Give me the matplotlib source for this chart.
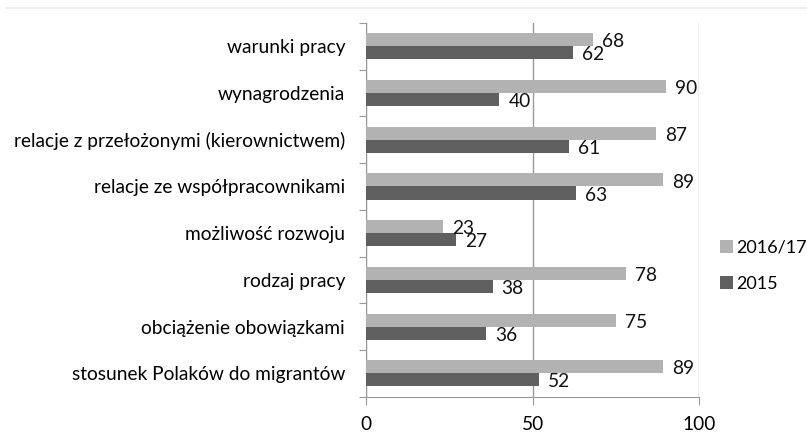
import matplotlib.pyplot as plt
import numpy as np
from matplotlib.lines import Line2D

plt.rcParams['font.family'] = ['Lato', 'DejaVu Sans']

# categories from top to bottom
categories = ["warunki pracy", "wynagrodzenia",
              "relacje z przełożonymi (kierownictwem)",
              "relacje ze współpracownikami", "możliwość rozwoju",
              "rodzaj pracy", "obciążenie obowiązkami",
              "stosunek Polaków do migrantów"]
vals_2016 = [68, 90, 87, 89, 23, 78, 75, 89]
vals_2015 = [62, 40, 61, 63, 27, 38, 36, 52]
series_names = ["2016/17", "2015"]
xticks = [0, 50, 100]

light = '#b2b2b2'
dark = '#5f5f5f'
fs = 13.8

fig = plt.figure(figsize=(8.07, 4.32), dpi=100)
ax = fig.add_axes([366 / 807, 1 - 396.7 / 432, (699.3 - 366) / 807, (396.7 - 23) / 432])

# faint top border line
fig.add_artist(Line2D([6 / 807, 1], [1 - 8 / 432, 1 - 8 / 432], color='#ebebeb', lw=1.2))

y = np.arange(len(categories))
h = 0.28
ax.barh(y - h / 2, vals_2016, height=h, color=light, label=series_names[0], zorder=3)
ax.barh(y + h / 2, vals_2015, height=h, color=dark, label=series_names[1], zorder=3)

for yi, v in zip(y, vals_2016):
    ax.annotate(str(v), (v, yi - h / 2), xytext=(6.5, -1.5), textcoords='offset points',
                va='center', ha='left', fontsize=fs, color='#111111')
for yi, v in zip(y, vals_2015):
    ax.annotate(str(v), (v, yi + h / 2), xytext=(6.5, -1.5), textcoords='offset points',
                va='center', ha='left', fontsize=fs, color='#111111')

ax.set_xlim(0, 100)
ax.set_ylim(len(categories) - 0.5, -0.5)
ax.set_xticks(xticks)
ax.set_xticklabels([str(t) for t in xticks], fontsize=fs)
ax.tick_params(axis='x', length=6, color='#999999', pad=8)

# category separators on y axis
ax.set_yticks(np.arange(-0.5, len(categories), 1))
ax.set_yticklabels([])
ax.tick_params(axis='y', length=5, color='#999999')
ax.set_yticks(y, minor=True)
ax.set_yticklabels(categories, minor=True, fontsize=fs)
ax.tick_params(axis='y', which='minor', length=0, pad=15)

ax.grid(axis='x', color='#999999', lw=1)
ax.set_axisbelow(True)
for s in ['top', 'right']:
    ax.spines[s].set_visible(False)
for s in ['left', 'bottom']:
    ax.spines[s].set_color('#999999')

ax.legend(loc='center left', bbox_to_anchor=(1.062, 0.35), frameon=False, fontsize=13,
          borderaxespad=0, borderpad=0,
          handlelength=0.7, handleheight=0.7, handletextpad=0.2, labelspacing=1.1)

plt.savefig('out.png', dpi=100)
